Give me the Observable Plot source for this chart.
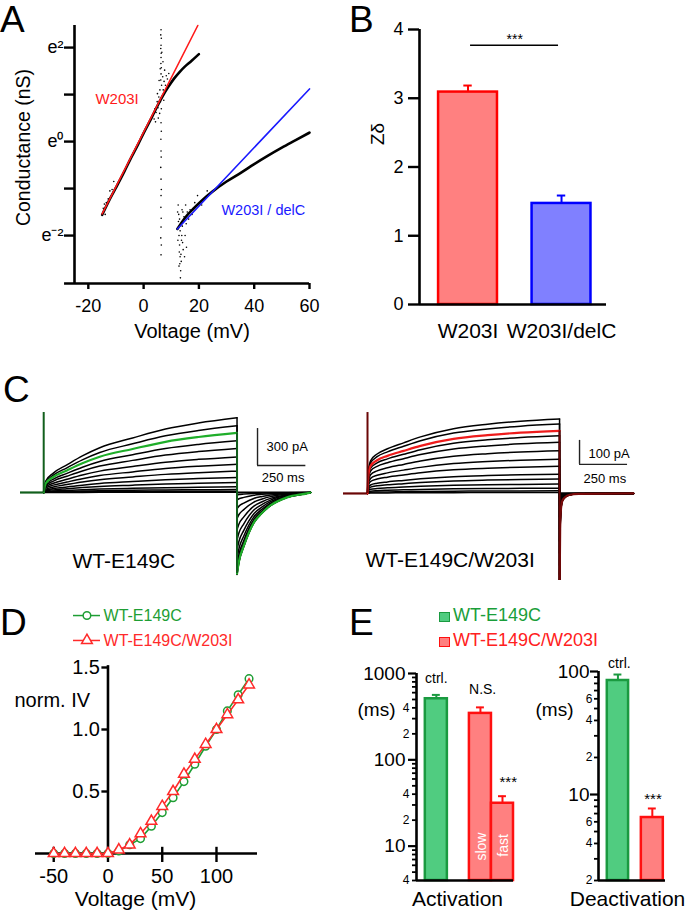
<!DOCTYPE html>
<html><head><meta charset="utf-8">
<script src="https://cdn.jsdelivr.net/npm/d3@7"></script>
<script src="https://cdn.jsdelivr.net/npm/@observablehq/plot@0.6"></script>
<style>
body{margin:0;background:#fff;}
#fig{position:relative;width:693px;height:916px;overflow:hidden;background:#fff;font-family:'Liberation Sans',Arial,Helvetica,sans-serif;}
.t{position:absolute;line-height:1;white-space:nowrap;}
</style></head><body><div id="fig"></div>
<script>
// ================= DATA =================
// Panel A: conductance (ln nS) vs voltage
const aW203I_V   = [-15, -12, -10, -7, -5, -2, 0, 3, 5, 7, 9, 11, 13, 15, 17, 20];
const aW203I_lnG = [-1.56, -1.2, -0.98, -0.64, -0.40, -0.06, 0.18, 0.52, 0.76, 0.98, 1.17, 1.34, 1.48, 1.6, 1.7, 1.86];
const aDelC_V    = [12.2, 15, 18, 21, 25, 30, 35, 40, 45, 50, 55, 60];
const aDelC_lnG  = [-1.86, -1.62, -1.43, -1.26, -1.06, -0.85, -0.67, -0.48, -0.3, -0.13, 0.03, 0.19];
const aFitW203I_V = [-15, 19.6], aFitW203I_lnG = [-1.54, 2.47];
const aFitDelC_V  = [12.2, 60],  aFitDelC_lnG  = [-1.86, 1.12];
const aScatterV = [6.3,6.2,6.4,6.3,6.2,6.35,6.3,6.25,6.4,6.3,6.2,6.3,6.4,6.25,6.3,6.35,6.2,6.3,6.4,6.3,6.25,6.35,6.3,6.2,6.4,6.3,
  3.2,3.8,4.1,4.5,4.9,5.2,5.5,5.8,5.9,6.1,6.5,6.7,6.9,7.1,7.4,7.6,7.9,8.2,6.0,5.6,7.0,6.6,5.3,4.3,8.6,9.1,6.4,7.3,5.0,
  -14.6,-14.2,-13.5,-12.8,-12.2,-11.4,-13.9,-10.8,
  12.3,12.5,12.6,12.8,12.9,13.0,13.1,13.2,13.3,13.4,13.5,13.6,13.7,13.9,14.0,14.3,14.6,14.8,15.0,15.4,15.8,16.3,16.8,17.5,18.5,12.4,12.7,13.0,13.8,14.2,15.2,19.5,21,23,12.8,13.2,14.1,15.5];
const aScatterLnG = [2.38,2.27,2.2,2.05,1.98,1.88,1.79,1.66,1.57,1.44,1.31,0.4,0.22,0.05,-0.2,-0.33,-0.55,-0.8,-1.02,-1.15,-1.4,-1.63,-1.82,-2.05,-2.2,-2.41,
  0.55,0.48,0.7,0.62,0.85,0.72,0.95,0.6,1.1,0.85,1.2,0.95,1.38,1.1,1.28,1.52,1.2,1.4,1.55,1.3,1.7,1.9,0.5,0.42,1.33,1.45,0.7,0.88,1.02,
  -1.42,-1.33,-1.3,-1.22,-1.05,-1.02,-1.55,-0.85,
  -1.5,-1.35,-1.7,-2.0,-2.35,-2.2,-2.6,-1.9,-2.9,-2.75,-2.4,-2.55,-2.1,-1.45,-1.8,-2.3,-1.6,-2.45,-2.0,-1.75,-1.5,-1.65,-1.45,-1.55,-1.3,-2.1,-1.55,-1.65,-2.0,-1.5,-1.35,-1.15,-1.35,-1.05,-2.65,-2.45,-2.15,-2.25];
const aXTicks = [-20, 0, 20, 40, 60];
const aYTicks = [-2, -1, 0, 1, 2];
const aTickLabels = {"2": "e²", "0": "e⁰", "-2": "e⁻²"};

// Panel B: z-delta
const bCats  = ["W203I", "W203I/delC"];
const bMeans = [3.09, 1.47];
const bErrs  = [0.095, 0.115];
const bYTicks = [0, 1, 2, 3, 4];

// Panel C: current traces (pA) — end-of-pulse amplitudes, tail peaks, read shapes
const cLeftAmp    = [606, 541, 484, 419, 357, 289, 229, 173, 122, 81, 46, 24, 11, 2];
const cLeftTail   = [665, 662, 657, 645, 625, 590, 535, 465, 385, 300, 210, 130, 60, 20];
const cLeftShapeT = [0, 10, 50, 120, 200, 290, 460, 630, 800, 1000];
const cLeftShapeF = [0, 0.15, 0.26, 0.37, 0.49, 0.6, 0.73, 0.85, 0.93, 1.0];
const cLeftTailT  = [0, 10, 35, 87, 130, 173, 259, 362, 380];
const cLeftTailF  = [1, 0.85, 0.66, 0.37, 0.25, 0.16, 0.06, 0.01, 0];
const cLeftSpike  = 649;
const cRightAmp    = [310, 289, 261, 240, 213, 178, 143, 113, 80, 60, 39, 22, 11, 4];
const cRightTail   = [430, 425, 420, 410, 395, 370, 340, 300, 250, 200, 150, 100, 50, 20];
const cRightShapeT = [0, 5, 16, 50, 104, 188, 276, 448, 625, 797, 1000];
const cRightShapeF = [0, 0.3, 0.44, 0.53, 0.6, 0.68, 0.76, 0.87, 0.93, 0.97, 1.0];
const cRightTailT  = [0, 3, 8, 15, 30, 50, 100, 385];
const cRightTailF  = [1, 0.35, 0.14, 0.07, 0.035, 0.015, 0.004, 0];
const cRightSpike  = 337;
const cHighlight = 2;
const cScaleLeftPA = 300, cScaleRightPA = 100, cScaleMs = 250;
const cNames = ["WT-E149C", "WT-E149C/W203I"];

// Panel D: normalized IV
const dV     = [-50, -40, -30, -20, -10, 0, 10, 20, 30, 40, 50, 60, 70, 80, 90, 100, 110, 120, 130];
const dWT    = [0, 0, 0, 0, 0, 0, 0.02, 0.07, 0.12, 0.22, 0.33, 0.45, 0.58, 0.72, 0.865, 1.0, 1.15, 1.28, 1.41];
const dW203I = [0, 0, 0, 0, 0, 0, 0.03, 0.07, 0.16, 0.26, 0.38, 0.5, 0.64, 0.76, 0.88, 1.0, 1.12, 1.24, 1.36];
const dSeries = ["WT-E149C", "WT-E149C/W203I"];
const dXTicks = [-50, 0, 50, 100];
const dYTicks = [0.5, 1.0, 1.5];

// Panel E: time constants (ms)
const eActCats   = ["ctrl.", "slow", "fast"];
const eActMean   = [510, 345, 31.4];
const eActErr    = [55, 60, 6.5];
const eDeactCats = ["ctrl.", "W203I"];
const eDeactMean = [84.5, 6.5];
const eDeactErr  = [10, 1.2];
const eActMajor  = [10, 100, 1000];
const eActMinor  = [4,5,6,7,8,9,20,30,40,50,60,70,80,90,200,300,400,500,600,700,800,900];
const eActMinorLabelAt = [4, 20, 40, 200, 400];
const eDeMajor   = [10, 100];
const eDeMinor   = [2,3,4,5,6,7,8,9,20,30,40,50,60,70,80,90];
const eDeMinorLabelAt = [2, 4, 6, 20, 40, 60];
const eLegend = ["WT-E149C", "WT-E149C/W203I"];

// ================= LAYOUT / HELPERS =================
const FONT = "'Liberation Sans', Arial, Helvetica, sans-serif";
const fig = document.getElementById("fig");
const st = (extra = {}) => Object.assign({fontFamily: FONT, fontSize: "18px", color: "black", background: "none", overflow: "visible"}, extra);
function put(node, left, top) { node.style.position = "absolute"; node.style.left = left + "px"; node.style.top = top + "px"; fig.appendChild(node); }
function txt(s, left, baseline, size, color = "black") {
  const d = document.createElement("div"); d.className = "t"; d.textContent = s;
  d.style.fontSize = size + "px"; d.style.color = color; put(d, left, baseline - 0.8465 * size);
}
const zip = (xs, ys) => xs.map((x, i) => ({x, y: ys[i]}));
const RED = "#ff1a1a", BLUE = "#1a1aff";
const plain = d => String(d);
const leadDigit = d => String(d)[0];

// ================= PANEL A =================
const aXmin = -25, aXmax = 60, aYmin = -3.02, aYmax = 2.47;
put(Plot.plot({
  width: 340, height: 345, marginLeft: 74, marginRight: 31, marginTop: 25, marginBottom: 62,
  x: {domain: [aXmin, aXmax], label: null}, y: {domain: [aYmin, aYmax], label: null},
  style: st(),
  marks: [
    Plot.dot(zip(aScatterV, aScatterLnG), {x: "x", y: "y", r: 0.8, fill: "black", stroke: null}),
    Plot.line(zip(aW203I_V, aW203I_lnG), {x: "x", y: "y", stroke: "black", strokeWidth: 2.6, curve: "monotone-x"}),
    Plot.line(zip(aDelC_V, aDelC_lnG), {x: "x", y: "y", stroke: "black", strokeWidth: 2.6, curve: "monotone-x"}),
    Plot.line(zip(aFitW203I_V, aFitW203I_lnG), {x: "x", y: "y", stroke: RED, strokeWidth: 1.6}),
    Plot.line(zip(aFitDelC_V, aFitDelC_lnG), {x: "x", y: "y", stroke: BLUE, strokeWidth: 1.6}),
    Plot.text(["W203I"], {x: () => -9.6, y: () => 0.91, fill: RED, fontSize: 15}),
    Plot.text(["W203I / delC"], {x: () => 43.3, y: () => -1.47, fill: BLUE, fontSize: 14.5}),
    Plot.ruleX([aXmin], {y1: aYmin, y2: aYmax, strokeWidth: 2.6}),
    Plot.ruleY([aYmin], {x1: -28.6, x2: aXmax, strokeWidth: 2.6}),
    Plot.axisX({ticks: aXTicks, tickFormat: plain, tickSize: 6, tickPadding: 10, strokeWidth: 2.4, fontSize: 18, label: null}),
    Plot.axisY({ticks: aYTicks, tickSize: 10, tickPadding: 1, strokeWidth: 2.4, fontSize: 18, label: null,
      tickFormat: d => aTickLabels[String(d)] || ""}),
    Plot.text(["Conductance (nS)"], {frameAnchor: "left", dx: -51, dy: -7, rotate: -90, textAnchor: "middle", lineAnchor: "middle", fontSize: 19.5}),
    Plot.text(["Voltage (mV)"], {frameAnchor: "bottom", dy: 47.6, textAnchor: "middle", lineAnchor: "middle", fontSize: 20})
  ]
}), 0, 0);

// ================= PANEL B =================
const bData = bCats.map((c, i) => ({cat: c, pos: i + 1, mean: bMeans[i], err: bErrs[i]}));
const bFill = ["#ff8080", "#8080ff"], bStroke = ["#ff0000", "#0000ff"];
put(Plot.plot({
  width: 353, height: 345, marginLeft: 79, marginRight: 87, marginTop: 29, marginBottom: 41,
  x: {domain: [0.481, 2.481], label: null}, y: {domain: [0, 4], label: null},
  color: {type: "identity"},
  style: st(),
  marks: [
    Plot.rectY(bData, {x1: d => d.pos - 0.315, x2: d => d.pos + 0.315, y1: 0, y2: "mean", fill: (d, i) => bFill[i], stroke: (d, i) => bStroke[i], strokeWidth: 2.5}),
    Plot.ruleX(bData, {x: "pos", y1: "mean", y2: d => d.mean + d.err, stroke: (d, i) => bStroke[i], strokeWidth: 2}),
    Plot.ruleY(bData, {y: d => d.mean + d.err, x1: d => d.pos - 0.045, x2: d => d.pos + 0.045, stroke: (d, i) => bStroke[i], strokeWidth: 2}),
    Plot.ruleY([3.77], {x1: 1.027, x2: 1.968, strokeWidth: 1.5}),
    Plot.text(["***"], {x: () => 1.5, y: () => 3.86, fontSize: 14}),
    Plot.ruleX([0.481], {y1: 0, y2: 4, strokeWidth: 2.6}),
    Plot.ruleY([0], {x1: 0.481, x2: 2.481, strokeWidth: 2.6}),
    Plot.axisY({ticks: bYTicks, tickFormat: plain, tickSize: 11, tickPadding: 5, strokeWidth: 2.4, fontSize: 18, label: null}),
    Plot.axisX({ticks: [1, 2], tickFormat: i => bCats[i - 1], tickSize: 0, tickPadding: 19, fontSize: 21, label: null}),
    Plot.text(["Zδ"], {frameAnchor: "left", dx: -42, dy: -33, rotate: -90, textAnchor: "middle", lineAnchor: "middle", fontSize: 19})
  ]
}), 340, 0);

// ================= PANEL C =================
function traceData(amp, tail, sT, sF, tT, tF) {
  const act = [], tl = [], step = [];
  amp.forEach((a, i) => {
    sT.forEach((t, k) => act.push({i, t, I: a * sF[k]}));
    step.push({i, t: 1000, I1: a, I2: -tail[i]});
    tT.forEach((t, k) => tl.push({i, t: 1000 + t, I: -tail[i] * tF[k]}));
  });
  return {act, tl, step};
}
function tracePlot(o) {
  const D = traceData(o.amp, o.tail, o.sT, o.sF, o.tT, o.tF);
  const hl = d => d.i === cHighlight, nh = d => d.i !== cHighlight;
  return Plot.plot({
    width: o.width, height: 185, marginLeft: o.ml, marginRight: o.mr, marginTop: 0, marginBottom: 0,
    x: {domain: o.xd, axis: null}, y: {domain: o.yd, axis: null},
    style: st({overflow: "hidden"}),
    marks: [
      Plot.ruleY([0], {x1: 1000, x2: o.xd[1], stroke: "black", strokeWidth: 2.2}),
      Plot.line(D.act.filter(nh), {x: "t", y: "I", z: "i", stroke: "black", strokeWidth: 1.5, curve: "monotone-x"}),
      Plot.line(D.tl.filter(nh), {x: "t", y: "I", z: "i", stroke: "black", strokeWidth: 1.5, curve: "monotone-x"}),
      Plot.ruleX(D.step.filter(nh), {x: "t", y1: "I1", y2: "I2", stroke: "black", strokeWidth: 1.5}),
      Plot.line(D.act.filter(hl), {x: "t", y: "I", stroke: o.hi, strokeWidth: 2.2, curve: "monotone-x"}),
      Plot.line(D.tl.filter(hl), {x: "t", y: "I", stroke: o.hiTail, strokeWidth: 2.2, curve: "monotone-x"}),
      Plot.ruleX(D.step.filter(hl), {x: "t", y1: "I1", y2: "I2", stroke: o.dark, strokeWidth: 2}),
      Plot.ruleY([0], {x1: o.xd[0], x2: 0, stroke: o.dark, strokeWidth: 2.2}),
      Plot.ruleX([0], {y1: 0, y2: o.spike, stroke: o.dark, strokeWidth: 2}),
      Plot.ruleX([o.sbT], {y1: o.sbI, y2: o.sbI + o.scalePA, stroke: "#222", strokeWidth: 1.4}),
      Plot.ruleY([o.sbI], {x1: o.sbT, x2: o.sbT + cScaleMs, stroke: "#222", strokeWidth: 1.4}),
      Plot.text([o.scalePA + " pA"], {x: () => o.pa[0], y: () => o.pa[1], textAnchor: "start", fontSize: 13}),
      Plot.text([cScaleMs + " ms"], {x: () => o.ms[0], y: () => o.ms[1], textAnchor: "start", fontSize: 13}),
      Plot.text([o.name], {x: () => o.nm[0], y: () => o.nm[1], textAnchor: "start", fontSize: 21})
    ]
  });
}
put(tracePlot({width: 340, ml: 20, mr: 30, xd: [-120, 1380], yd: [-714, 787],
  amp: cLeftAmp, tail: cLeftTail, sT: cLeftShapeT, sF: cLeftShapeF, tT: cLeftTailT, tF: cLeftTailF,
  spike: cLeftSpike, hi: "#1fae2a", hiTail: "#1fae2a", dark: "#115f1c",
  sbT: 1106, sbI: 219, scalePA: cScaleLeftPA, pa: [1153, 374], ms: [1128, 115], name: cNames[0], nm: [149, -554]}), 0, 395);
put(tracePlot({width: 353, ml: 3, mr: 60, xd: [-125, 1385], yd: [-362.5, 408],
  amp: cRightAmp, tail: cRightTail, sT: cRightShapeT, sF: cRightShapeF, tT: cRightTailT, tF: cRightTailF,
  spike: cRightSpike, hi: "#ee1c1c", hiTail: "#7a0a0a", dark: "#6a0606",
  sbT: 1104, sbI: 121, scalePA: cScaleRightPA, pa: [1151, 163], ms: [1125, 63], name: cNames[1], nm: [-10, -280]}), 340, 395);

// ================= PANEL D =================
const GRN = "#1e9e34", DRED = "#ff2a2a";
const dA = zip(dV, dWT), dB = zip(dV, dW203I);
put(Plot.plot({
  width: 340, height: 316, marginLeft: 35, marginRight: 83, marginTop: 67, marginBottom: 63,
  x: {domain: [-66.8, 137.8], label: null}, y: {domain: [0, 1.5], label: null, axis: null},
  style: st(),
  marks: [
    Plot.ruleY([0], {x1: -66.8, x2: 137.8, strokeWidth: 2.6}),
    Plot.ruleX([0], {y1: 0, y2: 1.515, strokeWidth: 2.6}),
    Plot.ruleX([-50, 50, 100], {y1: 0, y2: 0.05, strokeWidth: 2.4}),
    Plot.axisX({ticks: dXTicks, tickFormat: plain, tickSize: 9, tickPadding: 6, strokeWidth: 2.4, fontSize: 20, label: null}),
    Plot.ruleY(dYTicks, {x1: -5.6, x2: 0, strokeWidth: 2.4}),
    Plot.text(dYTicks, {x: () => 0, y: d => d, text: d3.format(".1f"), dx: -8, textAnchor: "end", fontSize: 20}),
    Plot.line(dA, {x: "x", y: "y", stroke: GRN, strokeWidth: 1.6}),
    Plot.dot(dA, {x: "x", y: "y", r: 3.8, stroke: GRN, fill: "white", strokeWidth: 1.5}),
    Plot.line(dB, {x: "x", y: "y", stroke: DRED, strokeWidth: 1.6}),
    Plot.dot(dB, {x: "x", y: "y", r: 4, symbol: "triangle", stroke: DRED, fill: "white", strokeWidth: 1.5}),
    // legend
    Plot.ruleY([1.919], {x1: -31.8, x2: -6.9, stroke: GRN, strokeWidth: 1.5}),
    Plot.dot([dSeries[0]], {x: () => -19.4, y: () => 1.919, r: 3.8, stroke: GRN, fill: "white", strokeWidth: 1.5}),
    Plot.text([dSeries[0]], {x: () => -4.1, y: () => 1.919, textAnchor: "start", fill: GRN, fontSize: 16}),
    Plot.ruleY([1.718], {x1: -31.8, x2: -6.9, stroke: DRED, strokeWidth: 1.5}),
    Plot.dot([dSeries[1]], {x: () => -19.4, y: () => 1.718, r: 4, symbol: "triangle", stroke: DRED, fill: "white", strokeWidth: 1.5}),
    Plot.text([dSeries[1]], {x: () => -4.1, y: () => 1.718, textAnchor: "start", fill: DRED, fontSize: 16}),
    Plot.text(["norm. IV"], {frameAnchor: "top-left", dx: -21, dy: 33.3, textAnchor: "start", lineAnchor: "middle", fontSize: 20}),
    Plot.text(["Voltage (mV)"], {frameAnchor: "bottom", dx: -11, dy: 45.3, textAnchor: "middle", lineAnchor: "middle", fontSize: 21})
  ]
}), 0, 600);

// ================= PANEL E =================
const EG_FILL = "#50cc80", EG_STROKE = "#1a9a40", ER_FILL = "#ff8080", ER_STROKE = "#ff1010";
const eActSlots = [[0.4, 1.4], [2.4, 3.4], [3.4, 4.4]];
const eAct = eActCats.map((c, i) => ({c, x1: eActSlots[i][0], x2: eActSlots[i][1], m: eActMean[i], e: eActErr[i],
  fill: i === 0 ? EG_FILL : ER_FILL, stroke: i === 0 ? EG_STROKE : ER_STROKE}));
put(Plot.plot({
  width: 180, height: 276, marginLeft: 66, marginRight: 17, marginTop: 33, marginBottom: 36,
  x: {domain: [0, 4.4], label: null, axis: null}, y: {type: "log", domain: [4, 1000], label: null},
  color: {type: "identity"},
  style: st(),
  marks: [
    Plot.rectY(eAct, {x1: "x1", x2: "x2", y1: 4, y2: "m", fill: "fill", stroke: "stroke", strokeWidth: 2.5}),
    Plot.ruleX(eAct, {x: d => (d.x1 + d.x2) / 2, y1: "m", y2: d => d.m + d.e, stroke: "stroke", strokeWidth: 2}),
    Plot.ruleY(eAct, {y: d => d.m + d.e, x1: d => (d.x1 + d.x2) / 2 - 0.18, x2: d => (d.x1 + d.x2) / 2 + 0.18, stroke: "stroke", strokeWidth: 2}),
    Plot.ruleX([0], {y1: 4, y2: 1000, strokeWidth: 2.6}),
    Plot.ruleY([4], {x1: 0, x2: 4.4, strokeWidth: 2.6}),
    Plot.axisY({ticks: eActMajor, tickFormat: plain, tickSize: 8, tickPadding: 3, strokeWidth: 2.2, fontSize: 19, label: null}),
    Plot.axisY({ticks: eActMinor, tickFormat: () => "", tickSize: 4, tickPadding: 3, strokeWidth: 1.8, label: null}),
    Plot.text(eActMinorLabelAt, {x: () => 0, y: d => d, text: leadDigit, dx: -7, textAnchor: "end", fontSize: 12}),
    Plot.text(["ctrl."], {x: () => 0.9, y: () => 875, fontSize: 14}),
    Plot.text(["N.S."], {x: () => 3.0, y: () => 653, fontSize: 14}),
    Plot.text(["***"], {x: () => 4.16, y: () => 55.2, fontSize: 15}),
    Plot.text([eActCats[1]], {x: () => 2.95, y: () => 9.9, rotate: -90, fill: "white", fontSize: 14}),
    Plot.text([eActCats[2]], {x: () => 3.95, y: () => 10.2, rotate: -90, fill: "white", fontSize: 14}),
    Plot.text(["(ms)"], {frameAnchor: "top-left", dx: -59, dy: 36.9, textAnchor: "start", lineAnchor: "middle", fontSize: 19}),
    Plot.text(["Activation"], {frameAnchor: "bottom", dx: -7.5, dy: 18.3, textAnchor: "middle", lineAnchor: "middle", fontSize: 21})
  ]
}), 350, 640);

const eDeSlots = [[0.4, 1.37], [1.95, 2.95]];
const eDe = eDeactCats.map((c, i) => ({c, x1: eDeSlots[i][0], x2: eDeSlots[i][1], m: eDeactMean[i], e: eDeactErr[i],
  fill: i === 0 ? EG_FILL : ER_FILL, stroke: i === 0 ? EG_STROKE : ER_STROKE}));
put(Plot.plot({
  width: 163, height: 276, marginLeft: 68, marginRight: 28, marginTop: 31, marginBottom: 36,
  x: {domain: [0, 3.05], label: null, axis: null}, y: {type: "log", domain: [2, 100], label: null},
  color: {type: "identity"},
  style: st(),
  marks: [
    Plot.rectY(eDe, {x1: "x1", x2: "x2", y1: 2, y2: "m", fill: "fill", stroke: "stroke", strokeWidth: 2.5}),
    Plot.ruleX(eDe, {x: d => (d.x1 + d.x2) / 2, y1: "m", y2: d => d.m + d.e, stroke: "stroke", strokeWidth: 2}),
    Plot.ruleY(eDe, {y: d => d.m + d.e, x1: d => (d.x1 + d.x2) / 2 - 0.18, x2: d => (d.x1 + d.x2) / 2 + 0.18, stroke: "stroke", strokeWidth: 2}),
    Plot.ruleX([0], {y1: 2, y2: 100, strokeWidth: 2.6}),
    Plot.ruleY([2], {x1: 0, x2: 3.05, strokeWidth: 2.6}),
    Plot.axisY({ticks: eDeMajor, tickFormat: plain, tickSize: 8, tickPadding: 1, strokeWidth: 2.2, fontSize: 19, label: null}),
    Plot.axisY({ticks: eDeMinor, tickFormat: () => "", tickSize: 4, tickPadding: 2, strokeWidth: 1.8, label: null}),
    Plot.text(eDeMinorLabelAt, {x: () => 0, y: d => d, text: leadDigit, dx: -6, textAnchor: "end", fontSize: 12}),
    Plot.text(["ctrl."], {x: () => 0.95, y: () => 116, fontSize: 14}),
    Plot.text(["***"], {x: () => 2.48, y: () => 9.18, fontSize: 15}),
    Plot.text(["(ms)"], {frameAnchor: "top-left", dx: -63, dy: 38.9, textAnchor: "start", lineAnchor: "middle", fontSize: 19}),
    Plot.text(["Deactivation"], {frameAnchor: "bottom", dx: -4.5, dy: 18.3, textAnchor: "middle", lineAnchor: "middle", fontSize: 21})
  ]
}), 530, 640);

// E legend
function box(left, top, w, h, fill, stroke) {
  const d = document.createElement("div");
  d.style.cssText = `position:absolute;left:${left}px;top:${top}px;width:${w}px;height:${h}px;background:${fill};border:1.5px solid ${stroke};box-sizing:border-box;`;
  fig.appendChild(d);
}
box(439, 612, 11, 10, EG_FILL, EG_STROKE);
box(439, 637, 11, 10, ER_FILL, ER_STROKE);
txt(eLegend[0], 453, 621.5, 18, "#1a9e3a");
txt(eLegend[1], 453, 646.5, 18, "#ff2020");

// Panel letters
txt("A", 0, 32, 37);
txt("B", 349, 32, 37);
txt("C", 3, 402, 37);
txt("D", 0, 635, 37);
txt("E", 349, 635, 37);
</script></body></html>
